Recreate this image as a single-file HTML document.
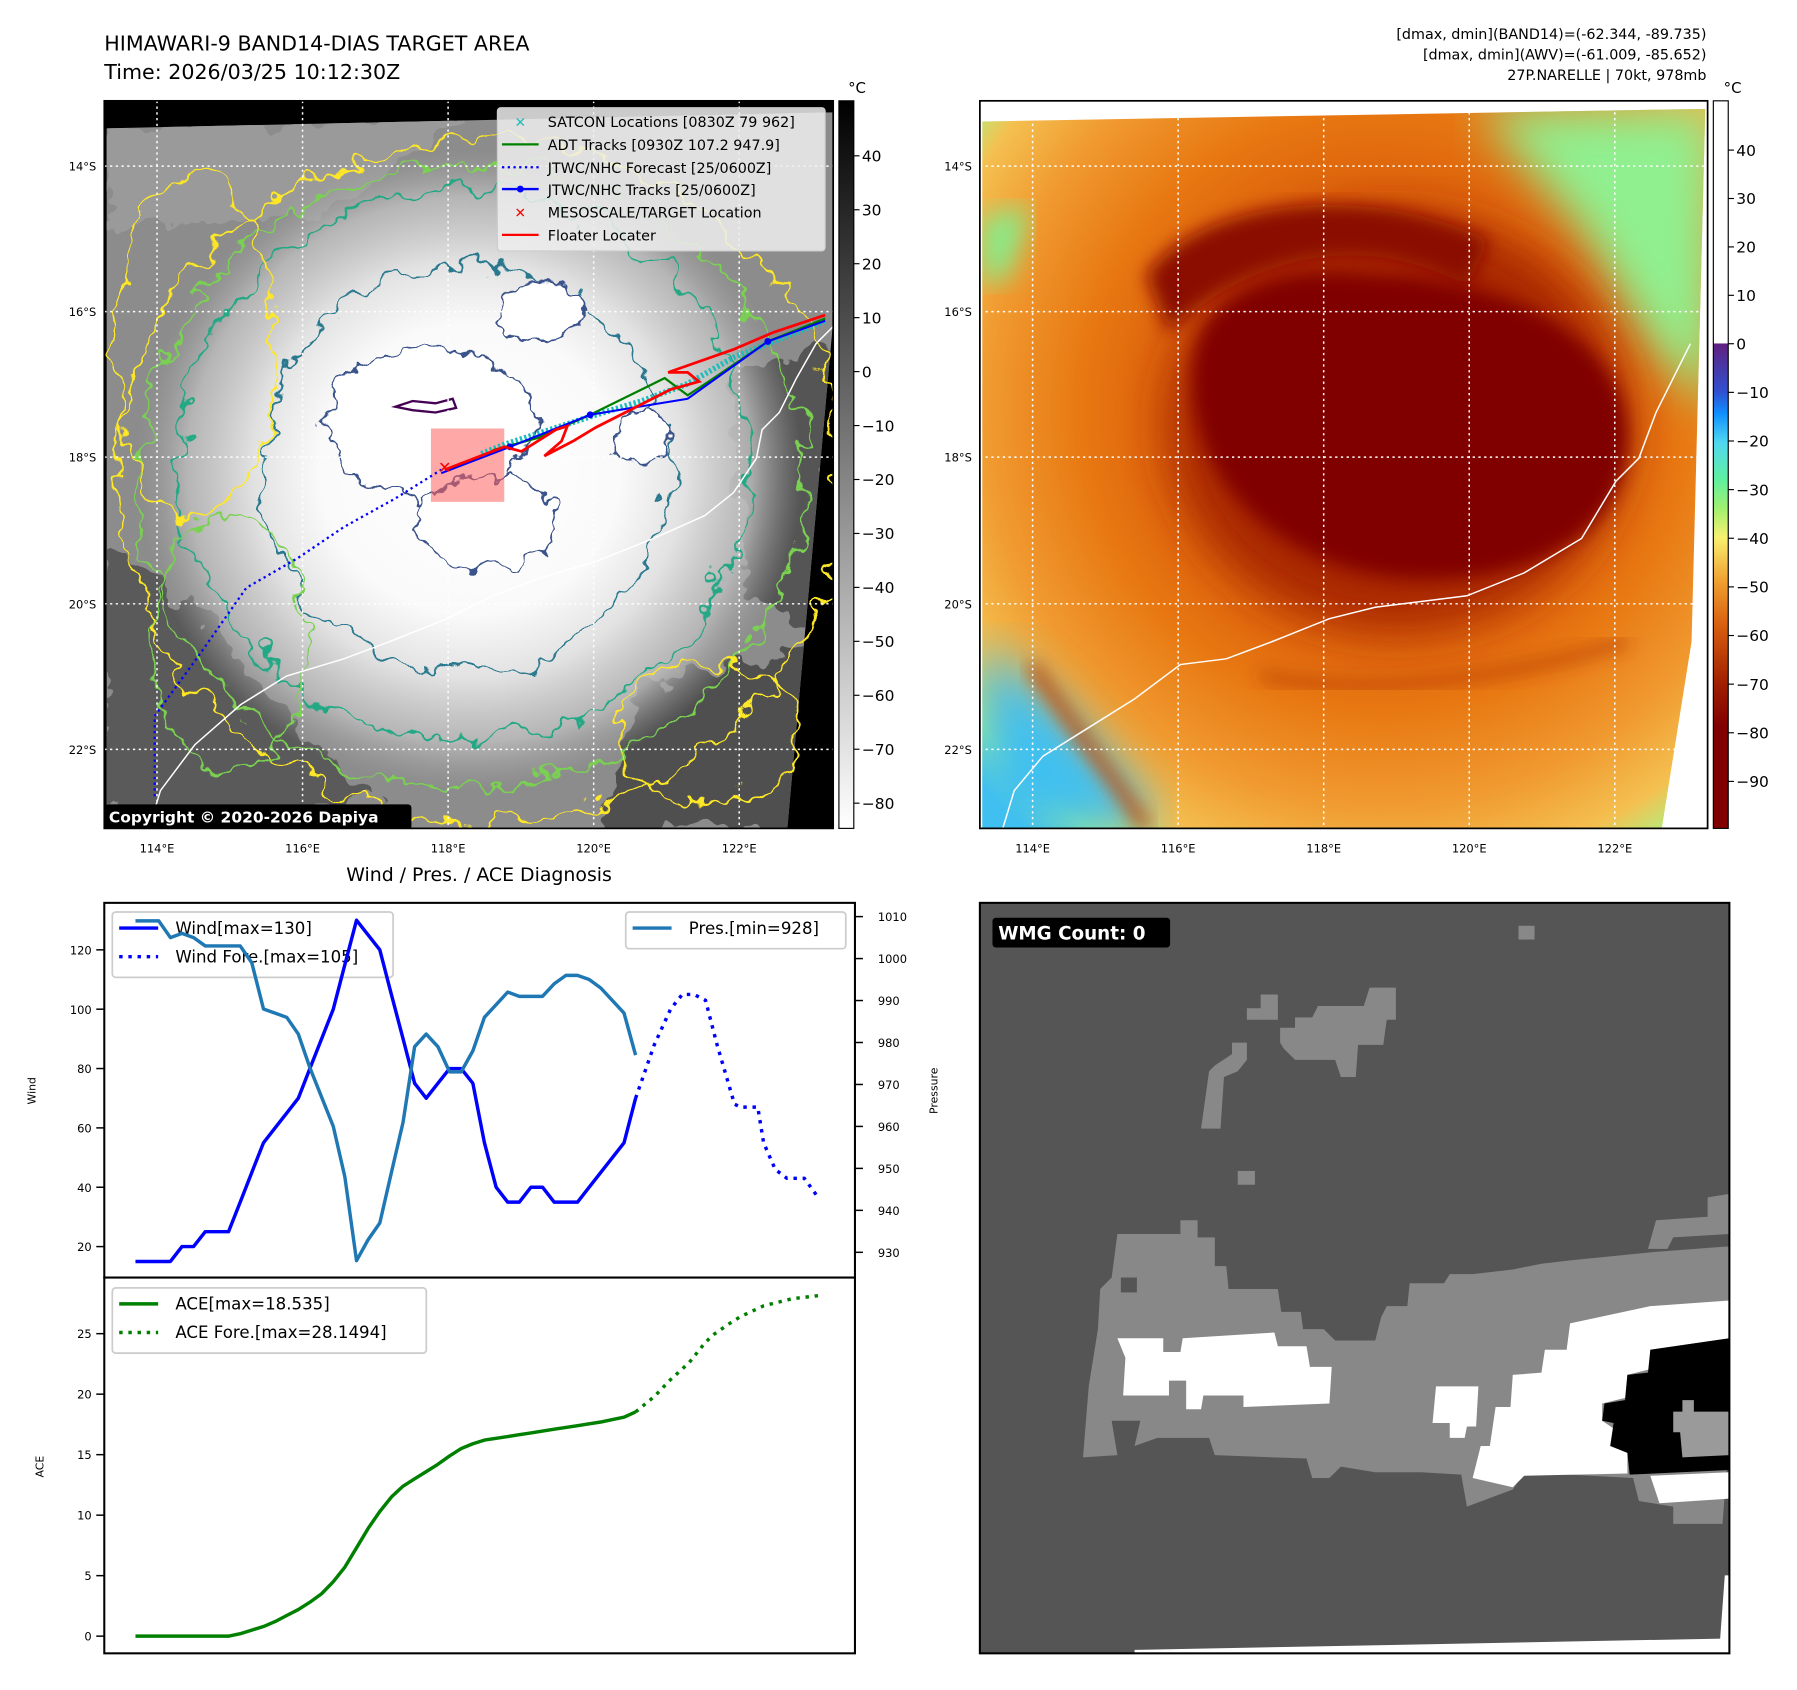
<!DOCTYPE html>
<html><head><meta charset="utf-8"><title>HIMAWARI-9 BAND14 Target Area</title>
<style>
html,body{margin:0;padding:0;background:#fff;}
svg{display:block;font-family:"DejaVu Sans","Liberation Sans",sans-serif;}
</style></head>
<body>
<svg id="fig" width="1797" height="1690" viewBox="0 0 1568 1475" preserveAspectRatio="none" xmlns="http://www.w3.org/2000/svg">
<defs>
  <filter id="wob" x="-20%" y="-20%" width="140%" height="140%">
    <feTurbulence type="fractalNoise" baseFrequency="0.035" numOctaves="3" seed="4" result="n"/>
    <feDisplacementMap in="SourceGraphic" in2="n" scale="40" xChannelSelector="R" yChannelSelector="G"/>
  </filter>
  <filter id="wob2" x="-20%" y="-20%" width="140%" height="140%">
    <feTurbulence type="fractalNoise" baseFrequency="0.05" numOctaves="3" seed="9" result="n"/>
    <feDisplacementMap in="SourceGraphic" in2="n" scale="28" xChannelSelector="R" yChannelSelector="G"/>
  </filter>
  <filter id="blur20"><feGaussianBlur stdDeviation="20"/></filter>
  <filter id="blur12"><feGaussianBlur stdDeviation="12"/></filter>
  <filter id="blur8"><feGaussianBlur stdDeviation="8"/></filter>
  <radialGradient id="ir1" cx="0.5" cy="0.5" r="0.5">
    <stop offset="0" stop-color="#ffffff"/>
    <stop offset="0.45" stop-color="#fafafa"/>
    <stop offset="0.65" stop-color="#e2e2e2"/>
    <stop offset="0.85" stop-color="#c0c0c0" stop-opacity="0.8"/>
    <stop offset="1" stop-color="#a0a0a0" stop-opacity="0"/>
  </radialGradient>
  <radialGradient id="ir2" cx="0.55" cy="0.42" r="0.75">
    <stop offset="0" stop-color="#c04000"/>
    <stop offset="0.35" stop-color="#d85a08"/>
    <stop offset="0.55" stop-color="#e87812"/>
    <stop offset="0.72" stop-color="#f09a30"/>
    <stop offset="0.85" stop-color="#f4c050"/>
    <stop offset="0.93" stop-color="#b0f080"/>
    <stop offset="1" stop-color="#40c0f0"/>
  </radialGradient>
  <linearGradient id="cb1" x1="0" y1="0" x2="0" y2="1">
    <stop offset="0" stop-color="#000"/><stop offset="1" stop-color="#fff"/>
  </linearGradient>
  <linearGradient id="cb2" x1="0" y1="0" x2="0" y2="1">
    <stop offset="0" stop-color="#ffffff"/>
    <stop offset="0.333" stop-color="#ffffff"/>
    <stop offset="0.334" stop-color="#602080"/>
    <stop offset="0.4" stop-color="#3050d0"/>
    <stop offset="0.43" stop-color="#1090ff"/>
    <stop offset="0.47" stop-color="#50d8f0"/>
    <stop offset="0.52" stop-color="#60f0a0"/>
    <stop offset="0.56" stop-color="#a0f070"/>
    <stop offset="0.6" stop-color="#f8f070"/>
    <stop offset="0.66" stop-color="#f0a030"/>
    <stop offset="0.72" stop-color="#d86010"/>
    <stop offset="0.8" stop-color="#a02000"/>
    <stop offset="0.86" stop-color="#800000"/>
    <stop offset="1" stop-color="#800000"/>
  </linearGradient>
  <clipPath id="clip1"><rect x="91" y="88" width="636" height="635"/></clipPath>
  <clipPath id="data1"><polygon points="93,112 727,98 727,280 687,723 93,723"/></clipPath>
  <clipPath id="clip2"><rect x="855" y="88" width="635" height="635"/></clipPath>
  <clipPath id="data2"><polygon points="857,106 1488,95 1476,560 1450,723 857,723"/></clipPath>
  <clipPath id="clipW"><rect x="855" y="788" width="654" height="655"/></clipPath>
</defs>

<!-- Titles -->
<text x="91" y="44" font-size="18">HIMAWARI-9 BAND14-DIAS TARGET AREA</text>
<text x="91" y="69" font-size="18">Time: 2026/03/25 10:12:30Z</text>
<g font-size="12.5" text-anchor="end">
  <text x="1489" y="34">[dmax, dmin](BAND14)=(-62.344, -89.735)</text>
  <text x="1489" y="52">[dmax, dmin](AWV)=(-61.009, -85.652)</text>
  <text x="1489" y="70">27P.NARELLE | 70kt, 978mb</text>
</g>

<!-- MAP 1 -->
<g clip-path="url(#clip1)">
  <rect x="91" y="88" width="636" height="635" fill="#000"/>
  <g clip-path="url(#data1)">
    <rect x="91" y="88" width="640" height="640" fill="#8c8c8c"/>
    <g filter="url(#wob)">
      <path d="M93,480 L160,520 L230,600 L330,700 L93,723 Z" fill="#5a5a5a"/>
      <path d="M560,600 L727,560 L700,723 L520,723 Z" fill="#505050"/>
      <path d="M640,330 L727,300 L727,560 L650,520 Z" fill="#555"/>
      <path d="M93,112 L400,100 L300,180 L93,200 Z" fill="#9a9a9a"/>
    </g>
    <ellipse cx="410" cy="410" rx="290" ry="280" fill="url(#ir1)"/>
  </g>
  <g fill="none" stroke-width="2" filter="url(#wob)">
    <ellipse cx="420" cy="420" rx="318" ry="298" stroke="#fde725"/>
    <ellipse cx="410" cy="415" rx="290" ry="272" stroke="#7ad151"/>
    <ellipse cx="405" cy="405" rx="250" ry="240" stroke="#22a884"/>
    <ellipse cx="405" cy="410" rx="175" ry="180" stroke="#2a788e"/>
    <ellipse cx="170" cy="300" rx="70" ry="150" stroke="#fde725"/>
    <ellipse cx="620" cy="640" rx="80" ry="60" stroke="#fde725"/>
    <ellipse cx="200" cy="560" rx="70" ry="110" stroke="#7ad151"/>
  </g>
  <g fill="#ffffff" stroke="#3b528b" stroke-width="2" filter="url(#wob2)">
    <ellipse cx="375" cy="370" rx="92" ry="65"/>
    <ellipse cx="425" cy="455" rx="62" ry="40"/>
    <ellipse cx="470" cy="272" rx="38" ry="26"/>
    <ellipse cx="560" cy="385" rx="22" ry="26"/>
  </g>
  <path d="M345,355 L360,350 L380,352 L395,348 L398,356 L380,360 L360,358 Z" fill="none" stroke="#440154" stroke-width="2"/>
  <path d="M727,285 L712,300 L695,330 L680,360 L665,375 L660,400 L640,430 L615,450 L570,470 L520,490 L470,505 L430,520 L390,540 L340,560 L300,575 L250,590 L210,615 L170,650 L140,690 L130,723" fill="none" stroke="#fff" stroke-width="1.3"/>
  <g stroke="#fff" stroke-width="1.3" stroke-dasharray="2,3">
    <line x1="137" y1="88" x2="137" y2="723"/><line x1="264" y1="88" x2="264" y2="723"/><line x1="391" y1="88" x2="391" y2="723"/><line x1="518" y1="88" x2="518" y2="723"/><line x1="645" y1="88" x2="645" y2="723"/>
    <line x1="91" y1="145" x2="727" y2="145"/><line x1="91" y1="272" x2="727" y2="272"/><line x1="91" y1="399" x2="727" y2="399"/><line x1="91" y1="527" x2="727" y2="527"/><line x1="91" y1="654" x2="727" y2="654"/>
  </g>
  <rect x="376" y="374" width="64" height="64" fill="#ff6060" fill-opacity="0.55"/>
  <polyline points="135,695 135,625 175,570 215,513 260,487 300,460 345,435 385,410" fill="none" stroke="#00f" stroke-width="2" stroke-dasharray="2,3"/>
  <polyline points="420,396 440,388 480,375 520,362 560,350 600,335 640,312 680,296 720,280" fill="none" stroke="#1bbcbc" stroke-width="5" stroke-dasharray="2,2"/>
  <polyline points="430,393 470,382 515,362 580,330 600,345 620,332 670,298 720,278" fill="none" stroke="#008000" stroke-width="2"/>
  <polyline points="385,413 445,390 515,362 600,348 670,298 720,280" fill="none" stroke="#00f" stroke-width="1.8"/>
  <g fill="#00f"><circle cx="445" cy="390" r="3"/><circle cx="515" cy="362" r="3"/><circle cx="670" cy="298" r="3"/></g>
  <polyline points="388,410 440,390 455,394 485,375 495,372 490,385 475,398 500,385 520,373 585,340 610,333 600,325 583,325 640,305 675,290 705,280 720,275" fill="none" stroke="#f00" stroke-width="2.4"/>
  <text x="388" y="413" font-size="14" fill="#f00" font-weight="bold" text-anchor="middle">✕</text>
  <rect x="91" y="702" width="268" height="22" rx="3" fill="#000"/>
  <text x="95" y="718" font-size="13.5" font-weight="bold" fill="#fff">Copyright © 2020-2026 Dapiya</text>
  <g>
    <rect x="434" y="94" width="286" height="125" rx="3" fill="#eeeeee" fill-opacity="0.85" stroke="#ccc"/>
    <g font-size="12.5">
      <text x="454" y="111" fill="#1bbcbc" font-size="12" text-anchor="middle" font-weight="bold">✕</text><text x="478" y="111">SATCON Locations [0830Z 79 962]</text>
      <line x1="438" y1="126" x2="470" y2="126" stroke="#008000" stroke-width="2"/><text x="478" y="131">ADT Tracks [0930Z 107.2 947.9]</text>
      <line x1="438" y1="146" x2="470" y2="146" stroke="#00f" stroke-width="2" stroke-dasharray="2,3"/><text x="478" y="151">JTWC/NHC Forecast [25/0600Z]</text>
      <line x1="438" y1="165" x2="470" y2="165" stroke="#00f" stroke-width="2"/><circle cx="454" cy="165" r="3" fill="#00f"/><text x="478" y="170">JTWC/NHC Tracks [25/0600Z]</text>
      <text x="454" y="190" fill="#f00" font-size="12" text-anchor="middle" font-weight="bold">✕</text><text x="478" y="190">MESOSCALE/TARGET Location</text>
      <line x1="438" y1="205" x2="470" y2="205" stroke="#f00" stroke-width="2"/><text x="478" y="210">Floater Locater</text>
    </g>
  </g>
</g>
<rect x="91" y="88" width="636" height="635" fill="none" stroke="#000" stroke-width="1.5"/>
<g font-size="10" text-anchor="end">
  <text x="84" y="149">14°S</text><text x="84" y="276">16°S</text><text x="84" y="403">18°S</text><text x="84" y="531">20°S</text><text x="84" y="658">22°S</text>
</g>
<g font-size="10" text-anchor="middle">
  <text x="137" y="744">114°E</text><text x="264" y="744">116°E</text><text x="391" y="744">118°E</text><text x="518" y="744">120°E</text><text x="645" y="744">122°E</text>
</g>
<g>
  <rect x="732" y="88" width="13" height="635" fill="url(#cb1)" stroke="#000" stroke-width="1"/>
  <text x="740" y="81" font-size="13">°C</text>
  <g font-size="13.5" id="cb1ticks"></g>
</g>

<!-- MAP 2 -->
<g clip-path="url(#clip2)">
  <rect x="855" y="88" width="635" height="635" fill="#fff"/>
  <g clip-path="url(#data2)">
    <rect x="855" y="88" width="640" height="640" fill="url(#ir2)"/>
    <polygon points="1290,95 1495,95 1495,360 1440,300 1380,200" fill="#90f090" filter="url(#blur20)"/>
    <polygon points="857,560 930,620 1000,700 1010,723 857,723" fill="#40c0f0" filter="url(#blur20)"/>
    <polygon points="857,190 900,180 880,240 857,250" fill="#80f090" filter="url(#blur12)"/>
    <ellipse cx="1220" cy="370" rx="200" ry="180" fill="#a82800" filter="url(#blur20)"/>
    <path d="M1040,330 C1040,250 1120,230 1200,240 C1300,240 1420,290 1420,380 C1420,470 1330,510 1230,505 C1130,500 1040,430 1040,330 Z" fill="#800000" filter="url(#blur8)"/>
    <path d="M1000,240 C1050,170 1200,160 1300,210 L1280,250 C1200,205 1100,215 1020,290 Z" fill="#8a0800" filter="url(#blur8)"/>
    <path d="M1100,590 C1200,610 1320,590 1420,560" fill="none" stroke="#b03000" stroke-width="6" filter="url(#blur8)"/>
    <path d="M900,580 C940,640 980,690 1000,723" fill="none" stroke="#c04000" stroke-width="10" filter="url(#blur8)"/>
  </g>
  <path d="M1475,300 L1460,330 L1445,360 L1430,400 L1410,420 L1380,470 L1330,500 L1280,520 L1240,525 L1200,530 L1160,540 L1110,560 L1070,575 L1030,580 L990,610 L950,635 L910,660 L885,690 L875,723" fill="none" stroke="#fff" stroke-width="1.3"/>
  <g stroke="#fff" stroke-width="1.3" stroke-dasharray="2,3">
    <line x1="901" y1="88" x2="901" y2="723"/><line x1="1028" y1="88" x2="1028" y2="723"/><line x1="1155" y1="88" x2="1155" y2="723"/><line x1="1282" y1="88" x2="1282" y2="723"/><line x1="1409" y1="88" x2="1409" y2="723"/>
    <line x1="855" y1="145" x2="1490" y2="145"/><line x1="855" y1="272" x2="1490" y2="272"/><line x1="855" y1="399" x2="1490" y2="399"/><line x1="855" y1="527" x2="1490" y2="527"/><line x1="855" y1="654" x2="1490" y2="654"/>
  </g>
</g>
<rect x="855" y="88" width="635" height="635" fill="none" stroke="#000" stroke-width="1.5"/>
<g font-size="10" text-anchor="end">
  <text x="848" y="149">14°S</text><text x="848" y="276">16°S</text><text x="848" y="403">18°S</text><text x="848" y="531">20°S</text><text x="848" y="658">22°S</text>
</g>
<g font-size="10" text-anchor="middle">
  <text x="901" y="744">114°E</text><text x="1028" y="744">116°E</text><text x="1155" y="744">118°E</text><text x="1282" y="744">120°E</text><text x="1409" y="744">122°E</text>
</g>
<g>
  <rect x="1495" y="88" width="13" height="635" fill="url(#cb2)" stroke="#000" stroke-width="1"/>
  <text x="1504" y="81" font-size="13">°C</text>
  <g font-size="13.5" id="cb2ticks"></g>
</g>

<text x="418" y="769" font-size="16.5" text-anchor="middle">Wind / Pres. / ACE Diagnosis</text>
<g id="chart"></g>

<!-- WMG panel -->
<g clip-path="url(#clipW)">
  <rect x="855" y="788" width="654" height="655" fill="#555555"/>
  <polygon points="1505,1375 1509,1375 1509,1443 1500,1443" fill="#fff"/>
  <polygon points="990,1440 1509,1430 1509,1443 990,1443" fill="#fff"/>
  <g fill="#888888">
    <rect x="1325" y="808" width="14" height="12"/>
    <polygon points="1088,880 1100,880 1100,868 1115,868 1115,890 1088,890"/>
    <polygon points="1117,897 1130,897 1130,888 1145,888 1150,878 1190,878 1195,862 1218,862 1218,890 1210,890 1207,912 1185,912 1183,940 1170,940 1165,925 1130,925 1120,915 1117,910"/>
    <polygon points="1048,985 1055,935 1060,930 1075,920 1075,910 1088,910 1088,925 1080,935 1068,940 1065,985"/>
    <rect x="1080" y="1022" width="15" height="12"/>
    <polygon points="975,1077 1030,1077 1030,1065 1045,1065 1045,1080 1060,1080 1060,1105 1070,1105 1072,1125 1115,1125 1118,1145 1135,1145 1137,1160 1155,1160 1165,1170 1200,1170 1205,1150 1210,1140 1228,1140 1230,1120 1260,1120 1265,1112 1285,1112 1320,1108 1345,1103 1370,1100 1440,1093 1505,1088 1509,1088 1509,1250 1503,1330 1460,1330 1460,1315 1430,1310 1425,1290 1330,1285 1320,1300 1280,1315 1275,1287 1240,1285 1200,1285 1170,1280 1160,1290 1145,1290 1140,1273 1060,1270 1055,1255 1010,1255 990,1262 995,1240 970,1240 975,1270 945,1272 950,1210 958,1160 960,1125 970,1115"/>
    <polygon points="1438,1090 1445,1065 1490,1062 1490,1045 1509,1042 1509,1077 1460,1080 1455,1090"/>
  </g>
  <rect x="978" y="1115" width="14" height="13" fill="#555"/>
  <g fill="#ffffff">
    <polygon points="975,1168 1015,1168 1015,1180 1030,1180 1032,1168 1112,1163 1115,1175 1140,1175 1143,1193 1162,1193 1160,1225 1085,1228 1085,1218 1050,1218 1048,1230 1035,1230 1035,1205 1020,1205 1020,1218 980,1218 982,1185"/>
    <polygon points="1253,1210 1290,1210 1288,1245 1280,1245 1278,1255 1265,1255 1265,1242 1250,1242"/>
    <polygon points="1285,1290 1292,1262 1300,1262 1305,1228 1318,1228 1320,1200 1345,1198 1348,1178 1367,1178 1370,1155 1440,1140 1509,1135 1509,1168 1440,1178 1440,1195 1420,1200 1418,1220 1398,1225 1398,1240 1420,1255 1420,1286 1330,1288 1320,1298"/>
    <polygon points="1440,1288 1509,1285 1509,1308 1448,1312"/>
  </g>
  <polygon points="1440,1178 1509,1168 1509,1283 1422,1287 1420,1268 1405,1262 1408,1242 1398,1240 1400,1225 1418,1222 1420,1200 1438,1198" fill="#000"/>
  <polygon points="1460,1232 1468,1232 1468,1222 1478,1222 1478,1232 1509,1232 1509,1270 1468,1272 1466,1250 1460,1250" fill="#9a9a9a"/>
  <rect x="866" y="801" width="155" height="26" rx="3" fill="#000"/>
  <text x="871" y="820" font-size="16" font-weight="bold" fill="#fff">WMG Count: 0</text>
</g>
<rect x="855" y="788" width="654" height="655" fill="none" stroke="#000" stroke-width="1.8"/>
</svg>

<script>
// ---- chart data ----
const windObs = [15,15,15,15,20,20,25,25,25,35,45,55,60,65,70,80,90,100,115,130,125,120,105,90,75,70,75,80,80,75,55,40,35,35,40,40,35,35,35,40,45,50,55,70];
const presObs = [1009,1009,1009,1005,1006,1005,1003,1003,1003,1003,999,988,987,986,982,974,967,960,948,928,933,937,949,961,979,982,979,973,973,978,986,989,992,991,991,991,994,996,996,995,993,990,987,977];
const aceObs = [0,0,0,0,0,0,0,0,0,0.2,0.5,0.8,1.2,1.7,2.2,2.8,3.5,4.5,5.7,7.3,8.9,10.3,11.5,12.4,13,13.6,14.2,14.9,15.5,15.9,16.2,16.35,16.5,16.65,16.8,16.95,17.1,17.25,17.4,17.55,17.7,17.9,18.1,18.535];
const windForeIdx = [43,44.6,46,47,48,49,50,51.5,52,53.5,54,55,56,57.5,58.8];
const windFore = [70,88,100,105,105,103,88,68,67,67,55,46,43,43,36];
const aceForeIdx = [43,44.6,46,47.6,49,49.8,51,52,54,56.5,58.8];
const aceFore = [18.535,19.8,21.2,22.6,24.3,25,25.8,26.4,27.3,27.9,28.15];
const windTicks = [20,40,60,80,100,120];
const presTicks = [930,940,950,960,970,980,990,1000,1010];
const aceTicks = [0,5,10,15,20,25];
const cb1Ticks = [40,30,20,10,0,-10,-20,-30,-40,-50,-60,-70,-80];
const cb2Ticks = [40,30,20,10,0,-10,-20,-30,-40,-50,-60,-70,-80,-90];

const NS = 'http://www.w3.org/2000/svg';
function mk(tag, attrs, parent){const e=document.createElementNS(NS,tag);for(const k in attrs)e.setAttribute(k,attrs[k]);parent.appendChild(e);return e;}
function xOf(i){return 118.2 + i*10.15;}
function windY(v){return 829 + (120 - v)*(1088-829)/100;}
function presY(p){return 800 + (1010 - p)*(1093-800)/80;}
function aceY(a){return 1428 - a*(1428-1164)/25;}
function cb1Y(t){return 136 + (40 - t)*(701-136)/120;}
function cb2Y(t){return t>=0 ? 300 - t*(300-131)/40 : 300 + (-t)*(682-300)/90;}
function minus(t){return t<0 ? '\u2212'+Math.abs(t) : String(t);}

const chart = document.getElementById('chart');
let f1 = mk('rect',{x:91,y:788,width:655,height:327,fill:'none',stroke:'#000','stroke-width':1.8},chart);


let f2 = mk('rect',{x:91,y:1115,width:655,height:328,fill:'none',stroke:'#000','stroke-width':1.8},chart);



windTicks.forEach(t=>{
  const y=windY(t);
  mk('line',{x1:84,y1:y,x2:91,y2:y,stroke:'#000','stroke-width':1.3},chart);
  const tx=mk('text',{x:80,y:y+4,'font-size':10,'text-anchor':'end'},chart);
  tx.textContent=t;
  
  
});
presTicks.forEach(t=>{
  const y=presY(t);
  mk('line',{x1:746,y1:y,x2:753,y2:y,stroke:'#000','stroke-width':1.3},chart);
  const tx=mk('text',{x:766,y:y+4,'font-size':10},chart);
  tx.textContent=t;
  
  
});
aceTicks.forEach(t=>{
  const y=aceY(t);
  mk('line',{x1:84,y1:y,x2:91,y2:y,stroke:'#000','stroke-width':1.3},chart);
  const tx=mk('text',{x:80,y:y+4,'font-size':10,'text-anchor':'end'},chart);
  tx.textContent=t;
  
  
});
let yl1=mk('text',{x:31,y:952,'font-size':9.5,'text-anchor':'middle',transform:'rotate(-90 31 952)'},chart);
yl1.textContent='Wind';


let yl2=mk('text',{x:818,y:952,'font-size':9.5,'text-anchor':'middle',transform:'rotate(-90 818 952)'},chart);
yl2.textContent='Pressure';


let yl3=mk('text',{x:38,y:1280,'font-size':9.5,'text-anchor':'middle',transform:'rotate(-90 38 1280)'},chart);
yl3.textContent='ACE';



function pts(xs, ys, fx, fy){return xs.map((x,i)=>fx(x).toFixed(1)+','+fy(ys[i]).toFixed(1)).join(' ');}
const idx = windObs.map((_,i)=>i);

function legend(x,y,w,h,items,name){
  const g=mk('g',{},chart);
  
  
  mk('rect',{x:x,y:y,width:w,height:h,rx:3,fill:'#fff','fill-opacity':0.8,stroke:'#ccc','stroke-width':1.5},g);
  items.forEach((it,k)=>{
    const cy=y+14+k*25;
    const ln=mk('line',{x1:x+6,y1:cy,x2:x+40,y2:cy,stroke:it.c,'stroke-width':3},g);
    if(it.d) ln.setAttribute('stroke-dasharray','3,5');
    const t=mk('text',{x:x+55,y:cy+5,'font-size':14.5},g);
    t.textContent=it.t;
  });
}
legend(98,796,245,57,[{c:'#0000ff',t:'Wind[max=130]'},{c:'#0000ff',t:'Wind Fore.[max=105]',d:1}],'wind-legend');
legend(546,796,192,32,[{c:'#1f77b4',t:'Pres.[min=928]'}],'pressure-legend');
legend(98,1124,274,57,[{c:'#008000',t:'ACE[max=18.535]'},{c:'#008000',t:'ACE Fore.[max=28.1494]',d:1}],'ace-legend');

let wl=mk('polyline',{points:pts(idx,windObs,xOf,windY),fill:'none',stroke:'#0000ff','stroke-width':3,'stroke-linejoin':'round'},chart);


let wf=mk('polyline',{points:pts(windForeIdx,windFore,xOf,windY),fill:'none',stroke:'#0000ff','stroke-width':3,'stroke-dasharray':'3,5'},chart);


let pl=mk('polyline',{points:pts(idx,presObs,xOf,presY),fill:'none',stroke:'#1f77b4','stroke-width':3,'stroke-linejoin':'round'},chart);


let al=mk('polyline',{points:pts(idx,aceObs,xOf,aceY),fill:'none',stroke:'#008000','stroke-width':3,'stroke-linejoin':'round'},chart);


let af=mk('polyline',{points:pts(aceForeIdx,aceFore,xOf,aceY),fill:'none',stroke:'#008000','stroke-width':3,'stroke-dasharray':'3,5'},chart);



const cb1 = document.getElementById('cb1ticks');
cb1Ticks.forEach(t=>{
  const y=cb1Y(t);
  mk('line',{x1:745,y1:y,x2:750,y2:y,stroke:'#000','stroke-width':1},cb1);
  const tx=mk('text',{x:752,y:y+5},cb1);
  tx.textContent=minus(t);
  
  
});
const cb2 = document.getElementById('cb2ticks');
cb2Ticks.forEach(t=>{
  const y=cb2Y(t);
  mk('line',{x1:1508,y1:y,x2:1513,y2:y,stroke:'#000','stroke-width':1},cb2);
  const tx=mk('text',{x:1515,y:y+5},cb2);
  tx.textContent=minus(t);
  
  
});
</script>
</body></html>
